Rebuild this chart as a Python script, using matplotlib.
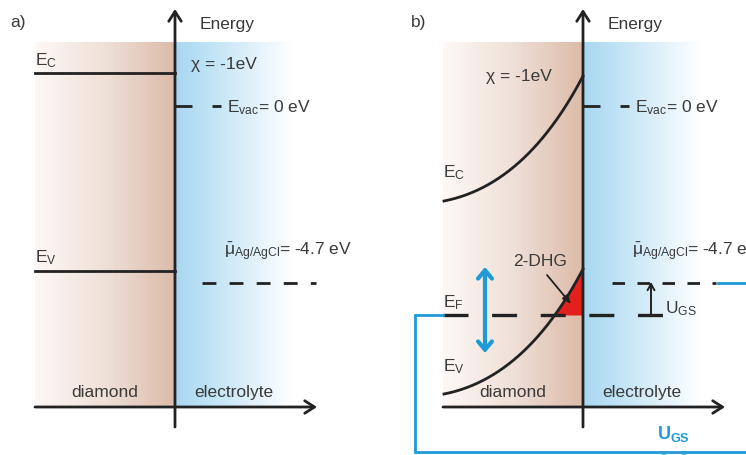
import numpy as np
import matplotlib
matplotlib.use("Agg")
import matplotlib.pyplot as plt
from matplotlib.colors import LinearSegmentedColormap
from matplotlib.bezier import BezierSegment

plt.rcParams['font.family'] = ['Liberation Sans', 'DejaVu Sans']
plt.rcParams['mathtext.fontset'] = 'custom'
plt.rcParams['mathtext.rm'] = 'Liberation Sans'
plt.rcParams['mathtext.it'] = 'Liberation Sans:italic'
plt.rcParams['lines.scale_dashes'] = False

# ---- level positions (figure pixels, y downwards) ----
panel_offset = [0, 408]          # panel b is panel a shifted right
interface_x = 175
left_x = 35
top_y = 43
axis_y = 408
ec_flat = 74                     # panel a, E_C
ev_flat = 272                    # panel a, E_V
evac_y = 107
mu_y = 284
ef_y = 316                       # panel b, Fermi level
# band bending (panel b): quadratic bezier control points, local x
ec_curve = [(36, 202), (118, 186), (175, 77)]
ev_curve = [(36, 395), (118, 379), (175, 270)]

dark = '#222222'
txt = '#3a3a3a'
blue = '#1f9ad8'
red = '#e3201b'
fs = 12.5

fig = plt.figure(figsize=(7.46, 4.56), dpi=100)
ax = fig.add_axes([0, 0, 1, 1])
ax.set_xlim(0, 746)
ax.set_ylim(456, 0)
ax.axis('off')

diamond_cmap = LinearSegmentedColormap.from_list('dia', ['#fdf8f5', '#efe0d8', '#dcbba8'])
elec_cmap = LinearSegmentedColormap.from_list('ele', ['#a7d7f1', '#d2ebf8', '#ffffff'])
grad = np.linspace(0, 1, 256).reshape(1, -1)

lw = 2.0


def panel(off):
    ix = interface_x + off
    ax.imshow(grad, cmap=diamond_cmap, aspect='auto',
              extent=[left_x + off, ix, axis_y, top_y], zorder=0)
    ax.imshow(grad, cmap=elec_cmap, aspect='auto',
              extent=[ix, ix + 118, axis_y, top_y], zorder=0)
    # axes with arrows
    ax.annotate('', xy=(ix, 10), xytext=(ix, 428),
                arrowprops=dict(arrowstyle='->,head_length=0.7,head_width=0.45',
                                lw=lw, color=dark, shrinkA=0, shrinkB=0), zorder=5)
    ax.annotate('', xy=(left_x + off + 282, axis_y), xytext=(left_x + off, axis_y),
                arrowprops=dict(arrowstyle='->,head_length=0.7,head_width=0.45',
                                lw=lw, color=dark, shrinkA=0, shrinkB=0), zorder=5)
    ax.text(ix + 25, 25, 'Energy', fontsize=fs, color=txt, va='center')
    # E_vac
    ax.plot([ix, ix + 17], [evac_y, evac_y], color=dark, lw=lw, solid_capstyle='butt')
    ax.plot([ix + 37, ix + 46], [evac_y, evac_y], color=dark, lw=lw, solid_capstyle='butt')
    ax.text(ix + 52, evac_y + 1, r'E$_{\mathregular{vac}}$= 0 eV', fontsize=fs,
            color=txt, va='center')
    ax.text(ix + 49, 252,
            r'$\bar{\mathregular{μ}}_{\mathregular{Ag/AgCl}}$= -4.7 eV', fontsize=fs,
            color=txt, va='center')
    ax.text(left_x + off + 70, 393, 'diamond', fontsize=fs, color=txt,
            ha='center', va='center')
    ax.text(ix + 59, 393, 'electrolyte', fontsize=fs, color=txt,
            ha='center', va='center')


# ---------------- panel a ----------------
panel(panel_offset[0])
ax.text(10, 22, 'a)', fontsize=fs, color=txt, va='center')
ax.plot([left_x, interface_x], [ec_flat, ec_flat], color=dark, lw=lw)
ax.plot([left_x, interface_x], [ev_flat, ev_flat], color=dark, lw=lw)
ax.text(left_x, 61, r'E$_{\mathregular{C}}$', fontsize=fs, color=txt, va='center')
ax.text(left_x, 258, r'E$_{\mathregular{V}}$', fontsize=fs, color=txt, va='center')
ax.text(191, 64, 'χ = -1eV', fontsize=fs, color=txt, va='center')
ax.plot([202, 316], [mu_y, mu_y], color=dark, lw=lw, linestyle=(0, (10, 9.5)))

# ---------------- panel b ----------------
off = panel_offset[1]
ix = interface_x + off
panel(off)
ax.text(411, 22, 'b)', fontsize=fs, color=txt, va='center')

t = np.linspace(0, 1, 200)
ec_pts = BezierSegment(np.array(ec_curve, float) + [off, 0])(t)
ev_pts = BezierSegment(np.array(ev_curve, float) + [off, 0])(t)

# 2-DHG region between E_V and E_F
mask = ev_pts[:, 1] <= ef_y
ax.fill_between(ev_pts[:, 0], ev_pts[:, 1], ef_y, where=mask, color=red,
                lw=0, zorder=2)
ax.plot(ec_pts[:, 0], ec_pts[:, 1], color=dark, lw=lw, zorder=3)
ax.plot(ev_pts[:, 0], ev_pts[:, 1], color=dark, lw=lw, zorder=3)

ax.plot([left_x + off, 667], [ef_y, ef_y], color=dark, lw=lw + 0.4,
        linestyle=(0, (18, 17)), zorder=3)
ax.plot([612, 716], [mu_y, mu_y], color=dark, lw=lw, linestyle=(0, (9, 9)), zorder=3)

ax.text(left_x + off, 173, r'E$_{\mathregular{C}}$', fontsize=fs, color=txt, va='center')
ax.text(left_x + off, 303, r'E$_{\mathregular{F}}$', fontsize=fs, color=txt, va='center')
ax.text(left_x + off, 367, r'E$_{\mathregular{V}}$', fontsize=fs, color=txt, va='center')
ax.text(486, 77, 'χ = -1eV', fontsize=fs, color=txt, va='center')
ax.text(540, 262, '2-DHG', fontsize=fs, color=txt, ha='center', va='center')
ax.annotate('', xy=(571, 305), xytext=(547, 276),
            arrowprops=dict(arrowstyle='-|>,head_length=0.5,head_width=0.2',
                            lw=1.3, color=dark, shrinkA=0, shrinkB=0), zorder=4)

# U_GS shift arrow
ax.annotate('', xy=(651, mu_y - 1), xytext=(651, ef_y),
            arrowprops=dict(arrowstyle='->,head_length=0.45,head_width=0.25',
                            lw=1.4, color=dark, shrinkA=0, shrinkB=0), zorder=4)
ax.text(665, 309, r'U$_{\mathregular{GS}}$', fontsize=fs, color=txt, va='center')

# blue double arrow for E_F shift
ax.annotate('', xy=(485, 268), xytext=(485, 354),
            arrowprops=dict(arrowstyle='<->,head_length=0.6,head_width=0.5',
                            lw=3, color=blue, shrinkA=0, shrinkB=0), zorder=4)

# circuit wires
ax.plot([left_x + off, 415, 415, 746], [ef_y, ef_y, 453, 453], color=blue, lw=lw,
        solid_joinstyle='miter', zorder=3)
ax.plot([718, 746], [mu_y, mu_y], color=blue, lw=lw, zorder=3)
ax.text(673, 434, r'U$_{\mathregular{GS}}$', fontsize=13, color=blue,
        fontweight='bold', ha='center', va='center')
for cx in [664, 684]:
    ax.add_patch(plt.Circle((cx, 463), 6, fill=False, ec=blue, lw=2.5, zorder=4))

fig.savefig('out.png', dpi=100)
